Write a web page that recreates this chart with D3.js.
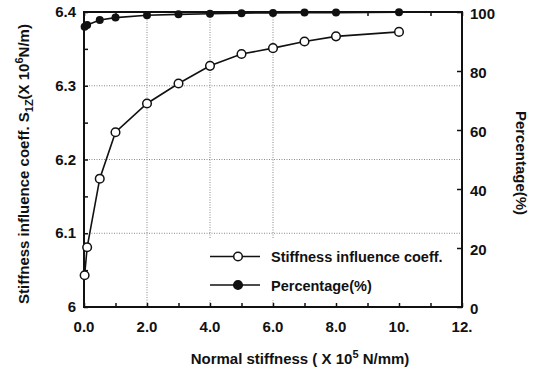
<!DOCTYPE html>
<html>
<head>
<meta charset="utf-8">
<script src="https://cdn.jsdelivr.net/npm/d3@7"></script>
<style>
  html, body { margin: 0; padding: 0; background: #fff; }
  svg { display: block; }
  text { font-family: "Liberation Sans", Arial, sans-serif; font-weight: bold; fill: #111; }
</style>
</head>
<body>
<svg id="chart" width="533" height="374"></svg>
<script>
// ── Data ──────────────────────────────────────────────────────────────────
const stiffness = [0.02, 0.1, 0.5, 1, 2, 3, 4, 5, 6, 7, 8, 10];          // x 10^5 N/mm
const coeff     = [6.043, 6.081, 6.174, 6.237, 6.276, 6.303, 6.327, 6.343, 6.351, 6.360, 6.367, 6.373];
const percent   = [95.0, 95.6, 97.3, 98.1, 98.9, 99.2, 99.4, 99.6, 99.7, 99.8, 99.8, 99.9];
const xTicks    = [0, 2, 4, 6, 8, 10, 12];
const xTickText = ['0.0', '2.0', '4.0', '6.0', '8.0', '10.', '12.'];
const yLTicks   = [6, 6.1, 6.2, 6.3, 6.4];
const yLTickText = ['6', '6.1', '6.2', '6.3', '6.4'];
const yRTicks   = [0, 20, 40, 60, 80, 100];
const xGrid     = [2, 4, 6];
const yGrid     = [6.1, 6.2, 6.3];
const legendItems = ['Stiffness influence coeff.', 'Percentage(%)'];

// ── Layout ────────────────────────────────────────────────────────────────
const svg = d3.select('#chart');
const L = 84, R = 462, T = 12, B = 307;

const x  = d3.scaleLinear().domain([0, 12]).range([L, R]);
const yL = d3.scaleLinear().domain([6, 6.4]).range([B, T]);
const yR = d3.scaleLinear().domain([0, 100]).range([B, T]);

// grid
const grid = svg.append('g').attr('stroke', '#888').attr('stroke-width', 1)
  .attr('stroke-dasharray', '1,1.5');
grid.selectAll('.hg').data(yGrid).join('line')
  .attr('x1', L).attr('x2', R).attr('y1', d => yL(d)).attr('y2', d => yL(d));
grid.selectAll('.vg').data(xGrid).join('line')
  .attr('x1', d => x(d)).attr('x2', d => x(d)).attr('y1', T).attr('y2', B);

// legend box (white, hides the grid beneath)
const lg = svg.append('g');
lg.append('rect').attr('x', 205).attr('y', 238).attr('width', 250).attr('height', 62).attr('fill', '#fff');

// axes: ticks inward
const axB = svg.append('g').attr('transform', `translate(0,${B})`)
  .call(d3.axisBottom(x).tickValues(d3.range(0, 13, 1)).tickSize(-4).tickFormat(''));
const axT = svg.append('g').attr('transform', `translate(0,${T})`)
  .call(d3.axisTop(x).tickValues(d3.range(0, 13, 1)).tickSize(-4).tickFormat(''));
const axL = svg.append('g').attr('transform', `translate(${L},0)`)
  .call(d3.axisLeft(yL).tickValues(d3.range(0, 9).map(i => 6 + i * 0.05)).tickSize(-4).tickFormat(''));
const axR = svg.append('g').attr('transform', `translate(${R},0)`)
  .call(d3.axisRight(yR).tickValues(yRTicks).tickSize(-5).tickFormat(''));
[axB, axT, axL, axR].forEach(a => {
  a.select('.domain').remove();
  a.selectAll('line').attr('stroke', '#111').attr('stroke-width', 1.5);
});

// frame
svg.append('rect').attr('x', L).attr('y', T).attr('width', R - L).attr('height', B - T)
  .attr('fill', 'none').attr('stroke', '#111').attr('stroke-width', 2);

// tick labels
svg.append('g').selectAll('text').data(xTicks).join('text')
  .attr('x', d => x(d)).attr('y', 332).attr('text-anchor', 'middle')
  .attr('font-size', 15).text((d, i) => xTickText[i]);
svg.append('g').selectAll('text').data(yLTicks).join('text')
  .attr('x', 76).attr('y', d => yL(d) + 5).attr('text-anchor', 'end')
  .attr('font-size', 15).text((d, i) => yLTickText[i]);
svg.append('g').selectAll('text').data(yRTicks).join('text')
  .attr('x', 470).attr('y', d => yR(d) + 7).attr('text-anchor', 'start')
  .attr('font-size', 15).text(d => d);

// series
const line = d3.line();
const ptsC = stiffness.map((s, i) => [x(s), yL(coeff[i])]);
const ptsP = stiffness.map((s, i) => [x(s), yR(percent[i])]);

svg.append('path').attr('d', line(ptsP)).attr('fill', 'none').attr('stroke', '#111').attr('stroke-width', 1.6);
svg.append('g').selectAll('circle').data(ptsP).join('circle')
  .attr('cx', d => d[0]).attr('cy', d => d[1]).attr('r', 4).attr('fill', '#111');

svg.append('path').attr('d', line(ptsC)).attr('fill', 'none').attr('stroke', '#111').attr('stroke-width', 1.6);
svg.append('g').selectAll('circle').data(ptsC).join('circle')
  .attr('cx', d => d[0]).attr('cy', d => d[1]).attr('r', 4.3)
  .attr('fill', '#fff').attr('stroke', '#111').attr('stroke-width', 1.5);

// legend
legendItems.forEach((name, i) => {
  const ly = 256.5 + i * 28.5;
  lg.append('line').attr('x1', 210).attr('x2', 260).attr('y1', ly).attr('y2', ly)
    .attr('stroke', '#111').attr('stroke-width', 1.5);
  lg.append('circle').attr('cx', 238).attr('cy', ly).attr('r', 4.3)
    .attr('fill', i === 0 ? '#fff' : '#111').attr('stroke', '#111').attr('stroke-width', 1.5);
  lg.append('text').attr('x', 271).attr('y', ly + 5.5).attr('font-size', 14.5).text(name);
});
lg.raise();

// axis titles
const xt = svg.append('text').attr('x', 300).attr('y', 364).attr('text-anchor', 'middle').attr('font-size', 15);
xt.append('tspan').text('Normal stiffness ( X 10');
xt.append('tspan').attr('dy', -6).attr('font-size', 11).text('5');
xt.append('tspan').attr('dy', 6).text(' N/mm)');

const ylt = svg.append('text').attr('transform', 'translate(29,164) rotate(-90)')
  .attr('text-anchor', 'middle').attr('font-size', 15);
ylt.append('tspan').text('Stiffness influence coeff.  S');
ylt.append('tspan').attr('dy', 4).attr('font-size', 11).text('1Z');
ylt.append('tspan').attr('dy', -4).text('(X 10');
ylt.append('tspan').attr('dy', -6).attr('font-size', 11).text('6');
ylt.append('tspan').attr('dy', 6).text('N/m)');

svg.append('text').attr('transform', 'translate(516,163) rotate(90)')
  .attr('text-anchor', 'middle').attr('font-size', 15).text('Percentage(%)');
</script>
</body>
</html>
